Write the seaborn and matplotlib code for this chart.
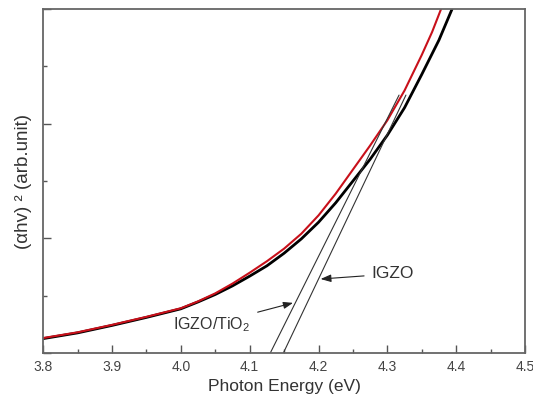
import matplotlib
matplotlib.use('Agg')
import matplotlib.pyplot as plt
from matplotlib.ticker import MultipleLocator, NullFormatter
import seaborn as sns
import pandas as pd

# absorption curves, (alpha h nu)^2 in arb. units
energy_tio2 = [3.80, 3.85, 3.90, 3.95, 4.00, 4.025, 4.05, 4.075, 4.10, 4.125, 4.15,
               4.175, 4.20, 4.225, 4.25, 4.275, 4.30, 4.325, 4.35, 4.365, 4.378]
absorb_tio2 = [0.13, 0.18, 0.245, 0.315, 0.39, 0.45, 0.52, 0.605, 0.70, 0.80, 0.91,
               1.04, 1.20, 1.39, 1.60, 1.81, 2.03, 2.29, 2.60, 2.80, 3.0]

energy_igzo = [3.80, 3.85, 3.90, 3.95, 4.00, 4.025, 4.05, 4.075, 4.10, 4.125, 4.15,
               4.175, 4.20, 4.225, 4.25, 4.275, 4.30, 4.325, 4.35, 4.375, 4.394]
absorb_igzo = [0.125, 0.175, 0.24, 0.31, 0.385, 0.445, 0.51, 0.585, 0.67, 0.76, 0.87,
               0.995, 1.14, 1.31, 1.50, 1.69, 1.90, 2.14, 2.43, 2.73, 3.0]

# linear extrapolations (Tauc fits), end points
fit_tio2_x = [4.130, 4.317]
fit_tio2_y = [0.0, 2.25]
fit_igzo_x = [4.149, 4.327]
fit_igzo_y = [0.0, 2.25]

x_ticks = [3.8, 3.9, 4.0, 4.1, 4.2, 4.3, 4.4, 4.5]

sns.set_style('white')
plt.rcParams['font.family'] = ['Liberation Sans', 'DejaVu Sans']
plt.rcParams['mathtext.fontset'] = 'custom'
plt.rcParams['mathtext.rm'] = 'Liberation Sans'

df_igzo = pd.DataFrame({'E': energy_igzo, 'A': absorb_igzo})
df_tio2 = pd.DataFrame({'E': energy_tio2, 'A': absorb_tio2})

fig = plt.figure(figsize=(5.33, 3.97), dpi=100)
ax = fig.add_axes([0.081, 0.111, 0.904, 0.866])

sns.lineplot(data=df_igzo, x='E', y='A', ax=ax, color='black', lw=2.0, sort=False)
sns.lineplot(data=df_tio2, x='E', y='A', ax=ax, color='#c8101a', lw=1.5, sort=False)
sns.lineplot(x=fit_tio2_x, y=fit_tio2_y, ax=ax, color='#333333', lw=0.8, sort=False)
sns.lineplot(x=fit_igzo_x, y=fit_igzo_y, ax=ax, color='#333333', lw=0.8, sort=False)

arrow = dict(arrowstyle='-|>,head_length=0.5,head_width=0.18', color='#222222',
             lw=0.8, shrinkA=3, shrinkB=0)
ax.annotate('IGZO', xy=(4.203, 0.645), xytext=(4.277, 0.69),
            ha='left', va='center', fontsize=12.5, color='#333333',
            arrowprops=arrow)
ax.annotate('IGZO/TiO$_2$', xy=(4.163, 0.437), xytext=(4.101, 0.25),
            ha='right', va='center', fontsize=11.5, color='#333333',
            arrowprops=arrow)

ax.set_xlim(3.8, 4.5)
ax.set_ylim(0, 3.0)
ax.set_xticks(x_ticks)
ax.set_xticklabels(['%.1f' % v for v in x_ticks])
ax.xaxis.set_minor_locator(MultipleLocator(0.05))
ax.yaxis.set_major_locator(MultipleLocator(1.0))
ax.yaxis.set_minor_locator(MultipleLocator(0.5))
ax.yaxis.set_major_formatter(NullFormatter())

ax.tick_params(which='both', direction='in', bottom=True, left=True,
               top=False, right=False, color='#555555', width=1.0)
ax.tick_params(which='major', length=6, labelsize=10, labelcolor='#444444', pad=5)
ax.tick_params(which='minor', length=3)

for sp in ax.spines.values():
    sp.set_color('#666666')
    sp.set_linewidth(1.3)

ax.set_xlabel('Photon Energy (eV)', fontsize=12.5, color='#333333', labelpad=4)
ax.set_ylabel('(αhv) ² (arb.unit)', fontsize=13.5, color='#333333', labelpad=3)

fig.savefig('out.png', dpi=100)
